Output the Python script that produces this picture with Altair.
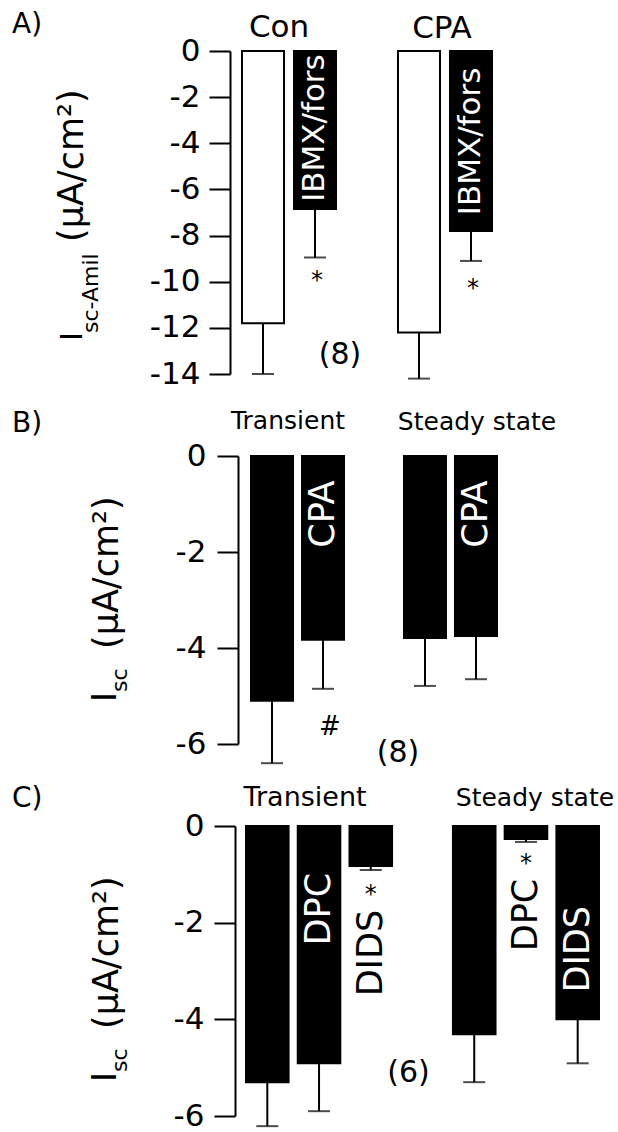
import altair as alt
import pandas as pd

FONT = "DejaVu Sans"

# ---------------- data ----------------
# Panel A: amiloride-sensitive Isc (uA/cm2)
A_SLOTS = ["Con", "Con IBMX/fors", "gapA", "CPA", "CPA IBMX/fors"]
A_CATS = ["Con", "Con IBMX/fors", "CPA", "CPA IBMX/fors"]
A_MEAN = [-11.8, -6.85, -12.2, -7.8]
A_LOW = [-14.0, -8.95, -14.2, -9.1]          # mean - SEM
A_KIND = ["control", "treated", "control", "treated"]
A_TICKS = [0, -2, -4, -6, -8, -10, -12, -14]

# Panel B: Isc, CPA effect
B_SLOTS = ["Transient", "Transient CPA", "gapB", "Steady state", "Steady state CPA"]
B_CATS = ["Transient", "Transient CPA", "Steady state", "Steady state CPA"]
B_MEAN = [-5.1, -3.83, -3.79, -3.75]
B_LOW = [-6.4, -4.85, -4.79, -4.65]
B_KIND = ["control", "treated", "control", "treated"]
B_TICKS = [0, -2, -4, -6]

# Panel C: Isc, DPC / DIDS effect
C_SLOTS = ["Transient", "Transient DPC", "Transient DIDS", "gapC",
           "Steady state", "Steady state DPC", "Steady state DIDS"]
C_CATS = ["Transient", "Transient DPC", "Transient DIDS",
          "Steady state", "Steady state DPC", "Steady state DIDS"]
C_MEAN = [-5.3, -4.91, -0.83, -4.31, -0.27, -4.0]
C_LOW = [-6.21, -5.9, -0.91, -5.3, -0.33, -4.91]
C_KIND = ["control", "treated", "treated", "control", "treated", "treated"]
C_TICKS = [0, -2, -4, -6]

# annotation anchors (category, text, y in data units)
A_BAR_LABELS = [("Con IBMX/fors", "IBMX/fors", -3.34), ("CPA IBMX/fors", "IBMX/fors", -3.92)]
A_SIG = [("Con IBMX/fors", "*", -9.97), ("CPA IBMX/fors", "*", -10.3)]
A_N = ("gapA", "(8)", -13.18)

B_BAR_LABELS = [("Transient CPA", "CPA", -1.21), ("Steady state CPA", "CPA", -1.21)]
B_SIG = [("Transient CPA", "#", -5.65)]
B_N = ("gapB", "(8)", -6.19)

C_WHITE_LABELS = [("Transient DPC", "DPC", -1.72), ("Steady state DIDS", "DIDS", -2.55)]
C_BLACK_LABELS = [("Transient DIDS", "DIDS", -2.63), ("Steady state DPC", "DPC", -1.84)]
C_SIG = [("Transient DIDS", "*", -1.43), ("Steady state DPC", "*", -0.79)]
C_N = ("gapC", "(6)", -5.11)


def make_axis(offset, pad, ticks):
    return alt.Axis(values=ticks, title=None, grid=False, domainColor="black",
                    domainWidth=2, tickColor="black", tickWidth=2, tickSize=21,
                    labelFont=FONT, labelFontSize=31, labelColor="black",
                    labelPadding=pad, offset=offset, labelExpr="'' + datum.value")


def panel(slots, cats, mean, low, kind, ctrl_color, ymin, ticks, width, height,
          p_in, p_out, ax_off, lab_pad):
    xs = alt.Scale(domain=slots, paddingInner=p_in, paddingOuter=p_out)
    ys = alt.Scale(domain=[ymin, 0], nice=False)
    yax = make_axis(ax_off, lab_pad, ticks)
    X = alt.X("cat:N", scale=xs, axis=None)
    df = pd.DataFrame({"cat": cats, "mean": mean, "low": low, "kind": kind})
    base = alt.Chart(df)
    bars = base.mark_bar(stroke="black", strokeWidth=2).encode(
        x=X,
        y=alt.Y("mean:Q", scale=ys, axis=yax),
        fill=alt.condition(alt.datum.kind == "control", alt.value(ctrl_color), alt.value("black")),
    )
    err = base.mark_rule(color="black", strokeWidth=2).encode(
        x=X, y=alt.Y("mean:Q", scale=ys, axis=yax), y2="low:Q")
    cap = base.mark_tick(color="black", thickness=2, size=22).encode(
        x=X, y=alt.Y("low:Q", scale=ys, axis=yax))

    def note(cat, text, y, size, color="black", angle=0, dx=0, dy=0,
             align="center", baseline="middle"):
        d = pd.DataFrame({"cat": [cat], "y": [y], "t": [text]})
        kw = dict(fontSize=size, color=color, align=align, baseline=baseline,
                  font=FONT, dx=dx, dy=dy)
        if angle:
            kw["angle"] = angle
        return alt.Chart(d).mark_text(**kw).encode(
            x=X, y=alt.Y("y:Q", scale=ys, axis=yax), text="t:N")

    def pix(text, x, y, size, angle=0, align="left", baseline="alphabetic"):
        kw = dict(text=text, fontSize=size, color="black", align=align,
                  baseline=baseline, font=FONT)
        if angle:
            kw["angle"] = angle
        return alt.Chart(pd.DataFrame({"a": [0]})).mark_text(**kw).encode(
            x=alt.value(x), y=alt.value(y))

    layers = [bars, err, cap]
    return layers, note, pix, dict(width=width, height=height)


# ---------------- Panel A ----------------
layA, noteA, pixA, sizeA = panel(A_SLOTS, A_CATS, A_MEAN, A_LOW, A_KIND, "white", -14, A_TICKS,
                                 258, 323, 0.192, 0.077, 8, 9)
for c, t, y in A_BAR_LABELS:
    layA.append(noteA(c, t, y, 31, color="white", angle=270))
for c, t, y in A_SIG:
    layA.append(noteA(c, t, y, 24, dx=2))
layA.append(noteA(A_N[0], A_N[1], A_N[2], 30, dx=-27))
layA.append(noteA("Con", "Con", 0, 31, dx=16, dy=-14, baseline="alphabetic"))
layA.append(noteA("CPA", "CPA", 0, 31, dx=23, dy=-13, baseline="alphabetic"))
layA.append(pixA("A)", -226, -18, 28))
layA.append(pixA("I", -156, 290, 31, angle=270))
layA.append(pixA("sc-Amil", -140, 282, 22, angle=270))
layA.append(pixA("(\u03bcA/cm\u00b2)", -155, 191, 35, angle=270))
# invisible corner marker fixing the page origin
layA.append(alt.Chart(pd.DataFrame({"a": [0]})).mark_rule(color="white", strokeWidth=1).encode(
    x=alt.value(-237.5), x2=alt.value(-236.5), y=alt.value(-50.5)))
chartA = alt.layer(*layA).properties(**sizeA)

# ---------------- Panel B ----------------
layB, noteB, pixB, sizeB = panel(B_SLOTS, B_CATS, B_MEAN, B_LOW, B_KIND, "black", -6, B_TICKS,
                                 272, 288, 0.176, 0.255, 0, 11)
for c, t, y in B_BAR_LABELS:
    layB.append(noteB(c, t, y, 35, color="white", angle=270))
for c, t, y in B_SIG:
    layB.append(noteB(c, t, y, 26, dx=7))
layB.append(noteB(B_N[0], B_N[1], B_N[2], 30, dx=24))
layB.append(noteB("Transient", "Transient", 0, 25, dx=16, dy=-27, baseline="alphabetic"))
layB.append(noteB("Steady state", "Steady state", 0, 25, dx=52, dy=-26, baseline="alphabetic"))
layB.append(pixB("B)", -226, -24, 28))
layB.append(pixB("I", -122, 246, 34, angle=270))
layB.append(pixB("sc", -111, 236, 22, angle=270))
layB.append(pixB("(\u03bcA/cm\u00b2)", -120, 193, 35, angle=270))
chartB = alt.layer(*layB).properties(**sizeB)

# ---------------- Panel C ----------------
layC, noteC, pixC, sizeC = panel(C_SLOTS, C_CATS, C_MEAN, C_LOW, C_KIND, "black", -6, C_TICKS,
                                 369, 290, 0.177, 0.155, 3, 10)
for c, t, y in C_WHITE_LABELS:
    layC.append(noteC(c, t, y, 35, color="white", angle=270))
for c, t, y in C_BLACK_LABELS:
    layC.append(noteC(c, t, y, 35, color="black", angle=270))
for c, t, y in C_SIG:
    layC.append(noteC(c, t, y, 24))
layC.append(noteC(C_N[0], C_N[1], C_N[2], 30, dx=-14))
layC.append(noteC("Transient DPC", "Transient", 0, 27, dx=-14, dy=-20, baseline="alphabetic"))
layC.append(noteC("Steady state DPC", "Steady state", 0, 25, dx=9, dy=-20, baseline="alphabetic"))
layC.append(pixC("C)", -226, -19, 28))
layC.append(pixC("I", -122, 256, 34, angle=270))
layC.append(pixC("sc", -111, 246, 22, angle=270))
layC.append(pixC("(\u03bcA/cm\u00b2)", -120, 203, 35, angle=270))
chartC = alt.layer(*layC).properties(**sizeC)

chart = alt.vconcat(chartA, chartB, chartC, spacing=82, bounds="flush").properties(
    padding=0
).configure(font=FONT).configure_view(stroke=None)

chart.save("out.html", embed_options={"renderer": "svg", "actions": False})
